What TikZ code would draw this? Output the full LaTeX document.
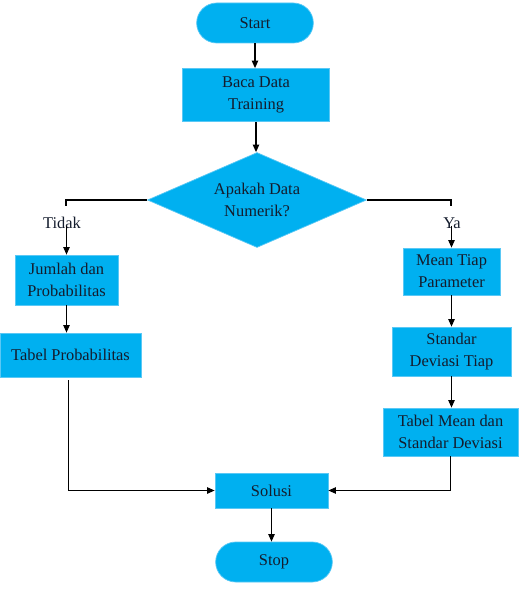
\documentclass[tikz,border=0pt]{standalone}
\usepackage{fontspec}
\setmainfont{Liberation Serif}
\usetikzlibrary{shapes.geometric,arrows.meta}
\definecolor{birumuda}{RGB}{0,176,240}
\definecolor{garisbiru}{RGB}{90,200,245}
\definecolor{teks}{RGB}{20,28,45}
\begin{document}
\begin{tikzpicture}[x=0.03cm,y=-0.03cm]
\tikzstyle{every node}+=[text=teks,font=\fontsize{14}{18.8}\selectfont,align=center,inner sep=0pt]
\tikzstyle{kotak}=[rectangle,fill=birumuda,draw=garisbiru,line width=0.6pt]
\tikzstyle{terminal}=[rectangle,rounded corners=0.6cm,fill=birumuda,draw=garisbiru,line width=0.6pt,minimum width=3.5cm,minimum height=1.2cm]
\tikzstyle{keputusan}=[diamond,aspect=2.3,fill=birumuda,draw=garisbiru,line width=0.6pt,minimum width=6.57cm,minimum height=2.85cm]
\tikzstyle{garis}=[black,line width=1.1pt]
\tikzstyle{panah}=[black,line width=1.1pt,-{Triangle[length=6.5pt,width=5.5pt]}]
\useasboundingbox (0,0) rectangle (520,595);
\node [terminal] (start) at (255,23) {Start};
\node [kotak,minimum width=4.41cm,minimum height=1.59cm] (baca) at (256,95) {Baca Data\\Training};
\node [keputusan] (cek) at (257,200) {Apakah Data\\Numerik?};
\node (tidak) at (62,223) {Tidak};
\node (ya) at (452,223) {Ya};
\node [kotak,minimum width=3.09cm,minimum height=1.5cm] (jumlah) at (66.5,280) {Jumlah dan\\Probabilitas};
\node [kotak,minimum width=4.23cm,minimum height=1.32cm] (tabprob) at (70.5,355) {Tabel Probabilitas};
\node [kotak,minimum width=2.91cm,minimum height=1.41cm] (mean) at (451.5,271.5) {Mean Tiap\\Parameter};
\node [kotak,minimum width=3.57cm,minimum height=1.47cm] (std) at (451.5,351.5) {Standar\\Deviasi Tiap};
\node [kotak,minimum width=4.05cm,minimum height=1.44cm] (tabmean) at (450.5,432) {Tabel Mean dan\\Standar Deviasi};
\node [kotak,minimum width=3.39cm,minimum height=1.05cm] (solusi) at (271.5,490.5) {Solusi};
\node [terminal] (stop) at (274,562) {Stop};
\coordinate (kiri) at (66,206);
\coordinate (kanan) at (451,206);
\draw [panah] (start.south) -- (start.south |- baca.north);
\draw [panah] (baca.south) -- (baca.south |- cek.north);
\draw [garis] (cek.west) -| (kiri);
\draw [garis] (cek.east) -| (kanan);
\draw [panah] (jumlah.north |- tidak.south) ++(0,-3) -- (jumlah.north);
\draw [panah] (mean.north |- ya.south) ++(0,-3) -- (mean.north);
\draw [panah] (jumlah.south) -- (jumlah.south |- tabprob.north);
\draw [panah] (mean.south) -- (mean.south |- std.north);
\draw [panah] (std.south) -- (std.south |- tabmean.north);
\draw [panah] (tabprob.south) ++(-2,3) |- (solusi.west);
\draw [panah] (tabmean.south) |- (solusi.east);
\draw [panah] (solusi.south) -- (solusi.south |- stop.north);
\end{tikzpicture}
\end{document}
